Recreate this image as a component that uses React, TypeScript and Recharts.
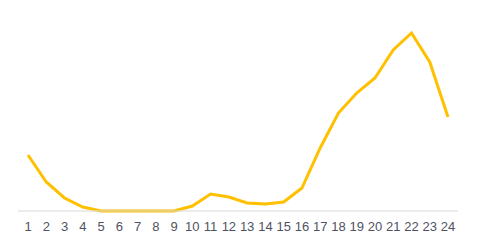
import { LineChart, Line, XAxis, YAxis } from "recharts";

const hours = [
  "1", "2", "3", "4", "5", "6", "7", "8", "9", "10", "11", "12",
  "13", "14", "15", "16", "17", "18", "19", "20", "21", "22", "23", "24",
];
const values = [
  56, 29, 13, 4, 0, 0, 0, 0, 0, 5, 17, 14,
  8, 7, 9, 23, 63, 98, 118, 133, 161, 178, 149, 94,
];

const data = hours.map((h, i) => ({ hour: h, value: values[i] }));

export default function App() {
  return (
    <div style={{ position: "absolute", left: 0, top: 0, background: "#fff" }}>
      <LineChart
        width={480}
        height={249}
        data={data}
        margin={{ top: 11, right: 22, left: 18, bottom: 8 }}
      >
        <XAxis
          dataKey="hour"
          height={30}
          interval={0}
          padding={{ left: 10, right: 10 }}
          tickLine={false}
          tickMargin={5}
          axisLine={{ stroke: "#d9d9d9" }}
          tick={{ fill: "#4f5262", fontSize: 13, fontFamily: "Liberation Sans, sans-serif" }}
        />
        <YAxis hide domain={[0, 200]} />
        <Line
          type="linear"
          dataKey="value"
          stroke="#FFC000"
          strokeWidth={3}
          dot={false}
          isAnimationActive={false}
        />
      </LineChart>
    </div>
  );
}
